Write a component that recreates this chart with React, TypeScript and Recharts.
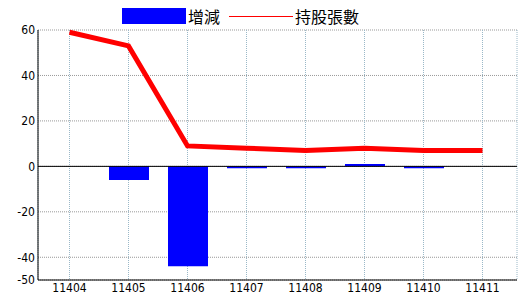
import {
  ComposedChart,
  Bar,
  Line,
  XAxis,
  YAxis,
  CartesianGrid,
  ReferenceLine,
  Legend,
} from 'recharts'

const MONTHS = ['11404', '11405', '11406', '11407', '11408', '11409', '11410', '11411']
const CHANGE = [0, -6, -44, -0.8, -0.8, 1, -0.8, 0]
const HOLDINGS = [59, 53, 9, 8, 7, 8, 7, 7]
const Y_TICKS = [60, 40, 20, 0, -20, -40, -50]

const data = MONTHS.map((m, i) => ({ month: m, change: CHANGE[i], holdings: HOLDINGS[i] }))

const TICK_STYLE = { fill: '#000', fontSize: 12, fontFamily: '"Liberation Sans Narrow", "DejaVu Sans Condensed", Arial, sans-serif' }
const CJK = '"Noto Sans CJK TC", "Noto Sans CJK SC", sans-serif'

function ChartLegend() {
  return (
    <div style={{ display: 'flex', alignItems: 'center', height: 16, fontFamily: CJK, fontSize: 16, color: '#000' }}>
      <span style={{ width: 64, height: 16, background: '#0000ff', display: 'inline-block' }} />
      <span style={{ marginLeft: 2, lineHeight: '16px' }}>增減</span>
      <span style={{ width: 64, height: 1, background: '#ff0000', display: 'inline-block', marginLeft: 9 }} />
      <span style={{ marginLeft: 2, lineHeight: '16px' }}>持股張數</span>
    </div>
  )
}

export default function App() {
  return (
    <div style={{ position: 'absolute', left: 0, top: 0, width: 520, height: 300, background: '#fff' }}>
      <ComposedChart width={520} height={300} data={data} margin={{ top: 30, right: 3, left: 0, bottom: 0 }}>
        <CartesianGrid vertical={false} stroke="#999" strokeDasharray="1 1" />
        <CartesianGrid horizontal={false} stroke="#9ab8c8" strokeDasharray="1 1" />
        <XAxis
          dataKey="month"
          height={20}
          padding={{ left: 2, right: 5 }}
          tick={TICK_STYLE}
          tickLine={false}
          tickSize={0}
          tickMargin={3}
          axisLine={{ stroke: '#000' }}
        />
        <XAxis xAxisId="top" dataKey="month" orientation="top" height={0} tick={false} tickLine={false} axisLine={{ stroke: '#000' }} />
        <YAxis
          width={38}
          domain={[-50, 60]}
          ticks={Y_TICKS}
          interval={0}
          tick={TICK_STYLE}
          tickLine={false}
          tickSize={0}
          tickMargin={3}
          axisLine={{ stroke: '#000' }}
        />
        <YAxis yAxisId="right" orientation="right" width={0} domain={[-50, 60]} tick={false} tickLine={false} axisLine={{ stroke: '#000' }} />
        <ReferenceLine y={0} stroke="#000" />
        <Legend
          layout="horizontal"
          verticalAlign="middle"
          align="center"
          content={<ChartLegend />}
          wrapperStyle={{ top: 8, left: 122, width: 'auto' }}
        />
        <Bar dataKey="change" name="增減" fill="#0000ff" barSize={40} isAnimationActive={false} />
        <Line
          dataKey="holdings"
          name="持股張數"
          stroke="#ff0000"
          strokeWidth={5}
          dot={false}
          type="linear"
          isAnimationActive={false}
        />
      </ComposedChart>
    </div>
  )
}
